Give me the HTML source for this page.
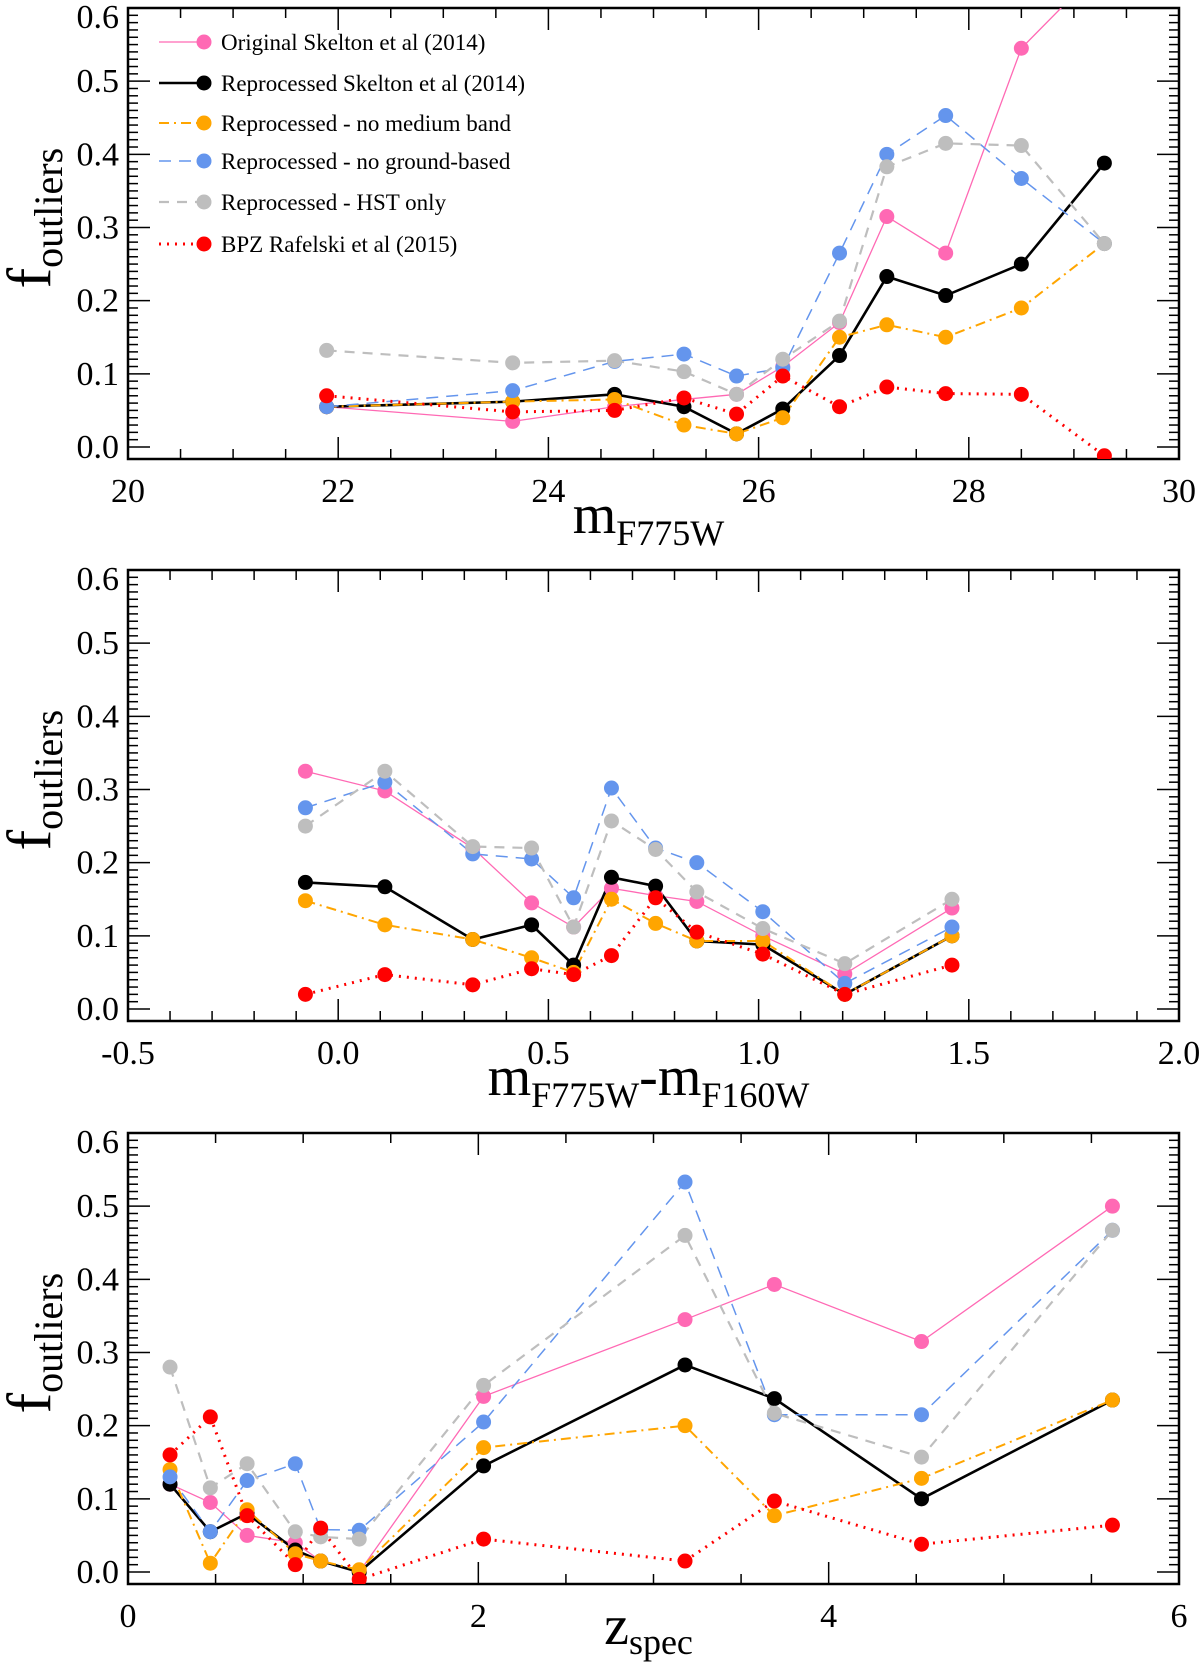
<!DOCTYPE html>
<html><head><meta charset="utf-8"><style>
html,body{margin:0;padding:0;background:#fff;}
svg{display:block;font-family:"Liberation Serif",serif;}
</style></head><body>
<svg id="chart" width="1200" height="1662" viewBox="0 0 1200 1662" xmlns="http://www.w3.org/2000/svg"></svg>
<script>
// ---- data ----
const p1X = [21.89, 23.66, 24.63, 25.29, 25.79, 26.23, 26.77, 27.22, 27.78, 28.5, 29.29];
const p1Pink = [0.055, 0.035, 0.055, 0.065, 0.072, 0.11, 0.17, 0.315, 0.265, 0.545, 0.66];
const p1Black = [0.055, 0.062, 0.072, 0.055, 0.018, 0.052, 0.125, 0.233, 0.207, 0.25, 0.388];
const p1Orange = [0.055, 0.062, 0.065, 0.03, 0.018, 0.04, 0.15, 0.167, 0.15, 0.19, 0.278];
const p1Blue = [0.055, 0.077, 0.117, 0.127, 0.097, 0.108, 0.265, 0.4, 0.453, 0.367, 0.278];
const p1Gray = [0.132, 0.115, 0.118, 0.103, 0.072, 0.12, 0.172, 0.383, 0.415, 0.412, 0.278];
const p1Red = [0.07, 0.048, 0.05, 0.067, 0.045, 0.097, 0.055, 0.082, 0.073, 0.072, -0.012];

const p2X = [-0.078, 0.111, 0.32, 0.46, 0.56, 0.65, 0.755, 0.853, 1.01, 1.205, 1.46];
const p2Pink = [0.325, 0.298, 0.22, 0.145, 0.112, 0.165, 0.155, 0.147, 0.1, 0.048, 0.138];
const p2Black = [0.173, 0.167, 0.095, 0.115, 0.06, 0.18, 0.168, 0.093, 0.088, 0.02, 0.1];
const p2Orange = [0.148, 0.115, 0.095, 0.07, 0.05, 0.15, 0.117, 0.093, 0.093, 0.02, 0.1];
const p2Blue = [0.275, 0.31, 0.212, 0.205, 0.152, 0.302, 0.22, 0.2, 0.133, 0.035, 0.112];
const p2Gray = [0.25, 0.325, 0.222, 0.22, 0.112, 0.257, 0.218, 0.16, 0.11, 0.062, 0.15];
const p2Red = [0.02, 0.047, 0.033, 0.055, 0.047, 0.073, 0.152, 0.105, 0.075, 0.02, 0.06];

const p3X = [0.24, 0.47, 0.68, 0.955, 1.1, 1.32, 2.03, 3.18, 3.69, 4.53, 5.62];
const p3Pink = [0.12, 0.095, 0.05, 0.04, 0.015, 0.0, 0.24, 0.345, 0.393, 0.315, 0.5];
const p3Black = [0.12, 0.055, 0.08, 0.03, 0.015, 0.0, 0.145, 0.283, 0.237, 0.1, 0.235];
const p3Orange = [0.14, 0.012, 0.085, 0.025, 0.015, 0.003, 0.17, 0.2, 0.077, 0.128, 0.235];
const p3Blue = [0.13, 0.055, 0.125, 0.148, 0.058, 0.057, 0.205, 0.533, 0.215, 0.215, 0.467];
const p3Gray = [0.28, 0.115, 0.148, 0.055, 0.048, 0.045, 0.255, 0.46, 0.217, 0.157, 0.467];
const p3Red = [0.16, 0.212, 0.077, 0.01, 0.06, -0.01, 0.045, 0.015, 0.097, 0.038, 0.064];

const yTicks = ["0.0", "0.1", "0.2", "0.3", "0.4", "0.5", "0.6"];
const p1XTicks = ["20", "22", "24", "26", "28", "30"];
const p2XTicks = ["-0.5", "0.0", "0.5", "1.0", "1.5", "2.0"];
const p3XTicks = ["0", "2", "4", "6"];
const legendLabels = ["Original Skelton et al (2014)", "Reprocessed Skelton et al (2014)", "Reprocessed - no medium band", "Reprocessed - no ground-based", "Reprocessed - HST only", "BPZ Rafelski et al (2015)"];

// ---- styles ----
const NS = "http://www.w3.org/2000/svg";
const svg = document.getElementById("chart");
const styles = [
  {c:"#ff69b4", w:1.3, d:"", key:"original"},
  {c:"#000000", w:2.6, d:"", key:"reprocessed"},
  {c:"#ffa500", w:2, d:"10,5,2,5", key:"no-medium-band"},
  {c:"#6495ed", w:1.5, d:"12,8", key:"no-ground-based"},
  {c:"#bebebe", w:2.2, d:"10,8", key:"hst-only"},
  {c:"#ff0000", w:3, d:"2,6", key:"bpz-rafelski"}
];
function el(tag, attrs, parent){
  const e = document.createElementNS(NS, tag);
  for (const k in attrs) e.setAttribute(k, attrs[k]);
  (parent||svg).appendChild(e);
  return e;
}
const L = 128, R = 1179, H = 451;
const YMIN = -0.0164, YMAX = 0.6;

function panel(idx, top, xmin, xmax, xTicks, minorStep, X, series, title){
  const g = el("g", {});
  
  
  const bottom = top + H;
  const sx = v => L + (v - xmin) / (xmax - xmin) * (R - L);
  const sy = v => bottom - (v - YMIN) / (YMAX - YMIN) * H;
  const clipId = "clip" + idx;
  const cp = el("clipPath", {id: clipId}, g);
  el("rect", {x:L, y:top, width:R-L, height:H}, cp);
  for (let i = 0; i <= 60; i++) {
    const v = i / 100, y = sy(v);
    if (y < top || y > bottom) continue;
    const len = (i % 10 === 0) ? 22 : 10;
    el("line", {x1:L, x2:L+len, y1:y, y2:y, stroke:"#000", "stroke-width":1.5}, g);
    el("line", {x1:R, x2:R-len, y1:y, y2:y, stroke:"#000", "stroke-width":1.5}, g);
  }
  yTicks.forEach(t => {
    const off = (t === "0.6") ? 9 : 0;
    const tx = el("text", {x:L-9, y:sy(parseFloat(t))+11+off, "font-size":34, "text-anchor":"end"}, g);
    
    
    tx.textContent = t;
  });
  const nMinor = Math.round((xmax - xmin) / minorStep);
  for (let i = 0; i <= nMinor; i++) {
    const v = xmin + i * minorStep, x = sx(v);
    const major = xTicks.some(t => Math.abs(parseFloat(t) - v) < 1e-6);
    const len = major ? 22 : 10;
    el("line", {x1:x, x2:x, y1:bottom, y2:bottom-len, stroke:"#000", "stroke-width":1.5}, g);
    el("line", {x1:x, x2:x, y1:top, y2:top+len, stroke:"#000", "stroke-width":1.5}, g);
  }
  xTicks.forEach(t => {
    const tx = el("text", {x:sx(parseFloat(t)), y:bottom+43, "font-size":34, "text-anchor":"middle"}, g);
    
    
    tx.textContent = t;
  });
  const fr = el("rect", {x:L, y:top, width:R-L, height:H, fill:"none", stroke:"#000", "stroke-width":2.5}, g);
  
  
  const sg = el("g", {"clip-path":"url(#"+clipId+")"}, g);
  series.forEach((vals, s) => {
    const st = styles[s];
    const pts = vals.map((v, i) => sx(X[i]) + "," + sy(v)).join(" ");
    const pl = el("polyline", {points:pts, fill:"none", stroke:st.c, "stroke-width":st.w, "stroke-dasharray":st.d}, sg);
    
    
  });
  series.forEach((vals, s) => {
    const st = styles[s];
    vals.forEach((v, i) => {
      const c = el("circle", {cx:sx(X[i]), cy:sy(v), r:7.5, fill:st.c}, sg);
      
      
    });
  });
  const yt = el("text", {transform:"translate(50," + (top + H/2 + 55) + ") rotate(-90)", "font-size":62}, g);
  
  
  yt.innerHTML = 'f<tspan font-size="40" dy="12">outliers</tspan>';
  const xt = el("text", {x:(L+R)/2 - 5, y:bottom + (idx===3 ? 60 : 74), "font-size":56, "text-anchor":"middle"}, g);
  
  
  xt.innerHTML = title;
  return {sx, sy};
}

panel(1, 8, 20, 30, p1XTicks, 0.5, p1X, [p1Pink, p1Black, p1Orange, p1Blue, p1Gray, p1Red],
  'm<tspan font-size="36" dy="12">F775W</tspan>');
panel(2, 570, -0.5, 2.0, p2XTicks, 0.1, p2X, [p2Pink, p2Black, p2Orange, p2Blue, p2Gray, p2Red],
  'm<tspan font-size="36" dy="12">F775W</tspan><tspan dy="-12">-m</tspan><tspan font-size="36" dy="12">F160W</tspan>');
panel(3, 1133, 0, 6, p3XTicks, 0.5, p3X, [p3Pink, p3Black, p3Orange, p3Blue, p3Gray, p3Red],
  'z<tspan font-size="36" dy="10">spec</tspan>');

const lg = el("g", {});


const legY = [42, 83, 123, 161, 202, 244];
legendLabels.forEach((lab, i) => {
  const st = styles[i];
  const y = legY[i];
  const e = el("g", {}, lg);
  
  
  el("line", {x1:159, x2:204, y1:y, y2:y, stroke:st.c, "stroke-width":st.w, "stroke-dasharray":st.d}, e);
  el("circle", {cx:204, cy:y, r:7.5, fill:st.c}, e);
  const t = el("text", {x:221, y:y+8, "font-size":23}, e);
  t.textContent = lab;
});
</script>
</body></html>
